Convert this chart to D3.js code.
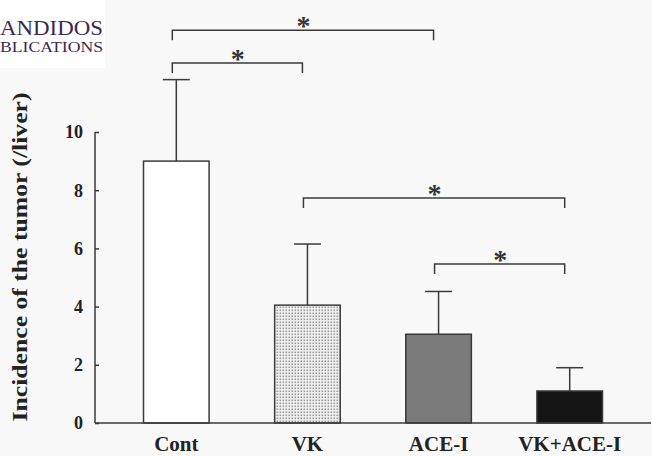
<!DOCTYPE html>
<html>
<head>
<meta charset="utf-8">
<script src="https://cdn.jsdelivr.net/npm/d3@7"></script>
<style>
  html, body { margin: 0; padding: 0; background: #f8f8f8; }
  svg { display: block; }
</style>
</head>
<body>
<svg id="chart"></svg>
<script>
// data
const groups = ["Cont", "VK", "ACE-I", "VK+ACE-I"];
const means = [9.0, 4.05, 3.05, 1.1];
const sdUpper = [11.8, 6.15, 4.52, 1.9];
const yTicks = [0, 2, 4, 6, 8, 10];
// significance brackets: [from, to, level]
const brackets = [
  ["Cont", "ACE-I", 13.5],
  ["Cont", "VK", 12.37],
  ["VK", "VK+ACE-I", 7.73],
  ["ACE-I", "VK+ACE-I", 5.46]
];
const fills = ["#ffffff", "url(#dots)", "#7b7b7b", "#141414"];

const width = 652;
const height = 456;
const ink = "#3a3a3a";
const serif = "'Liberation Serif', 'DejaVu Serif', serif";

const svg = d3.select("#chart").attr("width", width).attr("height", height);

// dotted pattern for VK bar
const defs = svg.append("defs");
const pat = defs.append("pattern")
  .attr("id", "dots")
  .attr("width", 3).attr("height", 3)
  .attr("patternUnits", "userSpaceOnUse");
pat.append("rect").attr("width", 3).attr("height", 3).attr("fill", "#f2f2f2");
pat.append("rect").attr("x", 0.5).attr("y", 0.5).attr("width", 1.6).attr("height", 1.6).attr("fill", "#9a9a9a");

// publisher logo, cropped at the left edge
svg.append("rect").attr("width", 105).attr("height", 68).attr("fill", "#ffffff");
svg.append("text")
  .attr("x", 0).attr("y", 35)
  .attr("font-family", serif).attr("font-size", 20)
  .attr("textLength", 103).attr("lengthAdjust", "spacingAndGlyphs")
  .attr("fill", "#3c2850")
  .text("ANDIDOS");
svg.append("text")
  .attr("x", 0).attr("y", 52)
  .attr("font-family", serif).attr("font-size", 15)
  .attr("textLength", 103).attr("lengthAdjust", "spacingAndGlyphs")
  .attr("fill", "#3c2850")
  .text("BLICATIONS");

// scales
const x = d3.scaleBand()
  .domain(groups)
  .range([95, 651])
  .paddingInner(0.5)
  .paddingOuter(0.37);

const y = d3.scaleLinear()
  .domain([0, 10])
  .range([423, 132]);

const cx = (g) => x(g) + x.bandwidth() / 2;

// bars
svg.append("g")
  .selectAll("rect")
  .data(groups)
  .enter()
  .append("rect")
  .attr("x", (d) => x(d))
  .attr("y", (d, i) => y(means[i]))
  .attr("width", x.bandwidth())
  .attr("height", (d, i) => y(0) - y(means[i]))
  .attr("fill", (d, i) => fills[i])
  .attr("stroke", ink)
  .attr("stroke-width", 1.5);

// error bars (upper only)
const err = svg.append("g").attr("stroke", ink).attr("stroke-width", 1.5);
err.selectAll("line.v")
  .data(groups)
  .enter()
  .append("line")
  .attr("class", "v")
  .attr("x1", cx).attr("x2", cx)
  .attr("y1", (d, i) => y(means[i]))
  .attr("y2", (d, i) => y(sdUpper[i]));
err.selectAll("line.cap")
  .data(groups)
  .enter()
  .append("line")
  .attr("class", "cap")
  .attr("x1", (d) => cx(d) - 13.5).attr("x2", (d) => cx(d) + 13.5)
  .attr("y1", (d, i) => y(sdUpper[i]))
  .attr("y2", (d, i) => y(sdUpper[i]));

// y axis: inward ticks
const yAxis = svg.append("g")
  .attr("transform", `translate(95,0)`)
  .call(d3.axisRight(y).tickValues(yTicks).tickSize(4).tickFormat(""));
yAxis.select(".domain").attr("stroke", ink).attr("stroke-width", 1.5).attr("d", `M0,${y(10)}V${y(0)}`);
yAxis.selectAll(".tick line").attr("stroke", ink).attr("stroke-width", 1.5);

svg.append("g")
  .selectAll("text")
  .data(yTicks)
  .enter()
  .append("text")
  .attr("x", 83)
  .attr("y", (d) => y(d))
  .attr("dy", "0.35em")
  .attr("text-anchor", "end")
  .attr("font-family", serif)
  .attr("font-weight", "bold")
  .attr("font-size", 18)
  .attr("fill", "#222")
  .text((d) => d);

// baseline
svg.append("line")
  .attr("x1", 95).attr("x2", 651)
  .attr("y1", y(0)).attr("y2", y(0))
  .attr("stroke", ink).attr("stroke-width", 1.5);

// x labels
svg.append("g")
  .selectAll("text")
  .data(groups)
  .enter()
  .append("text")
  .attr("x", cx)
  .attr("y", 451)
  .attr("text-anchor", "middle")
  .attr("font-family", serif)
  .attr("font-weight", "bold")
  .attr("font-size", 21)
  .attr("fill", "#222")
  .text((d) => d);

// y title
svg.append("text")
  .attr("transform", "translate(27,257) rotate(-90)")
  .attr("text-anchor", "middle")
  .attr("font-family", serif)
  .attr("font-weight", "bold")
  .attr("font-size", 21)
  .attr("textLength", 329)
  .attr("lengthAdjust", "spacingAndGlyphs")
  .attr("fill", "#222")
  .text("Incidence of the tumor (/liver)");

// significance brackets
const br = svg.append("g");
br.selectAll("path")
  .data(brackets)
  .enter()
  .append("path")
  .attr("d", (d) => {
    const x1 = cx(d[0]) - 4, x2 = cx(d[1]) - 5, yy = y(d[2]), drop = 10;
    return `M${x1},${yy + drop}V${yy}H${x2}V${yy + drop}`;
  })
  .attr("fill", "none")
  .attr("stroke", ink)
  .attr("stroke-width", 1.5);
br.selectAll("text")
  .data(brackets)
  .enter()
  .append("text")
  .attr("x", (d) => (cx(d[0]) + cx(d[1])) / 2 - 4)
  .attr("y", (d) => y(d[2]) + 5)
  .attr("text-anchor", "middle")
  .attr("font-family", serif)
  .attr("font-weight", "bold")
  .attr("font-size", 28)
  .attr("fill", "#333")
  .text("*");
</script>
</body>
</html>
